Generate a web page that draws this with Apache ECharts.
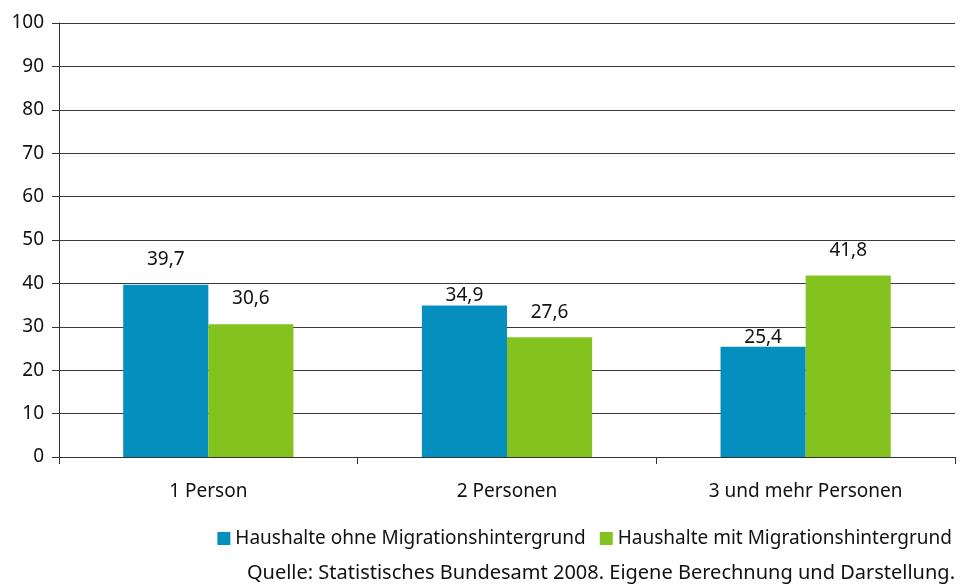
<!DOCTYPE html>
<html>
<head>
<meta charset="utf-8">
<script src="https://cdn.jsdelivr.net/npm/echarts@6/dist/echarts.min.js"></script>
<style>
html, body { margin: 0; padding: 0; background: #fff; }
#chart { width: 965px; height: 586px; }
</style>
</head>
<body>
<div id="chart"></div>
<script>
var categories = ["1 Person", "2 Personen", "3 und mehr Personen"];
var seriesNames = ["Haushalte ohne Migrationshintergrund", "Haushalte mit Migrationshintergrund"];
var ohneMigration = [39.7, 34.9, 25.4];
var mitMigration = [30.6, 27.6, 41.8];
var yTicks = [0, 10, 20, 30, 40, 50, 60, 70, 80, 90, 100];
var sourceText = "Quelle: Statistisches Bundesamt 2008. Eigene Berechnung und Darstellung.";

// label lift above bar top (px), as in the original layout
var liftOhne = [16, 0, 0];
var liftMit = [16, 15, 15];

var font = "Noto Sans";
var fs = 19;
var myChart = echarts.init(document.getElementById("chart"));

function makeData(values, lifts) {
    return values.map(function (v, i) {
        return {
            value: v,
            label: { offset: [0, -lifts[i]] }
        };
    });
}

function valueLabel(p) {
    return String(p.value).replace(".", ",");
}

myChart.setOption({
    animation: false,
    textStyle: { fontFamily: font },
    grid: { left: 59, right: 10, top: 23, bottom: 129 },
    legend: {
        data: seriesNames,
        right: 8,
        top: 524,
        itemWidth: 13,
        itemHeight: 13,
        itemGap: 14,
        icon: "rect",
        textStyle: { fontSize: fs, color: "#111", fontFamily: font }
    },
    graphic: [{
        type: "text",
        right: 10,
        top: 563,
        style: { text: sourceText, fontSize: 20, fill: "#111", fontFamily: font }
    }],
    xAxis: {
        type: "category",
        data: categories,
        axisLine: { lineStyle: { color: "#333", width: 1 } },
        axisTick: { show: true, length: 7, lineStyle: { color: "#333" } },
        axisLabel: { fontSize: fs, color: "#111", margin: 25 }
    },
    yAxis: {
        type: "value",
        min: yTicks[0],
        max: yTicks[yTicks.length - 1],
        interval: 10,
        axisLine: { show: true, lineStyle: { color: "#333", width: 1 } },
        axisTick: { show: true, length: 7, lineStyle: { color: "#333" } },
        axisLabel: { fontSize: fs, color: "#111", margin: 15 },
        splitLine: { lineStyle: { color: "#3a3a3a", width: 1.2 } }
    },
    series: [{
        name: seriesNames[0],
        type: "bar",
        data: makeData(ohneMigration, liftOhne),
        barGap: "0%",
        barCategoryGap: "43%",
        itemStyle: { color: "#058FBE" },
        label: {
            show: true,
            position: "top",
            distance: 0,
            fontSize: fs,
            color: "#111",
            formatter: valueLabel
        }
    }, {
        name: seriesNames[1],
        type: "bar",
        data: makeData(mitMigration, liftMit),
        barGap: "0%",
        barCategoryGap: "43%",
        itemStyle: { color: "#84C31F" },
        label: {
            show: true,
            position: "top",
            distance: 0,
            fontSize: fs,
            color: "#111",
            formatter: valueLabel
        }
    }]
});

window.addEventListener("resize", function () {
    myChart.resize();
});
</script>
</body>
</html>
